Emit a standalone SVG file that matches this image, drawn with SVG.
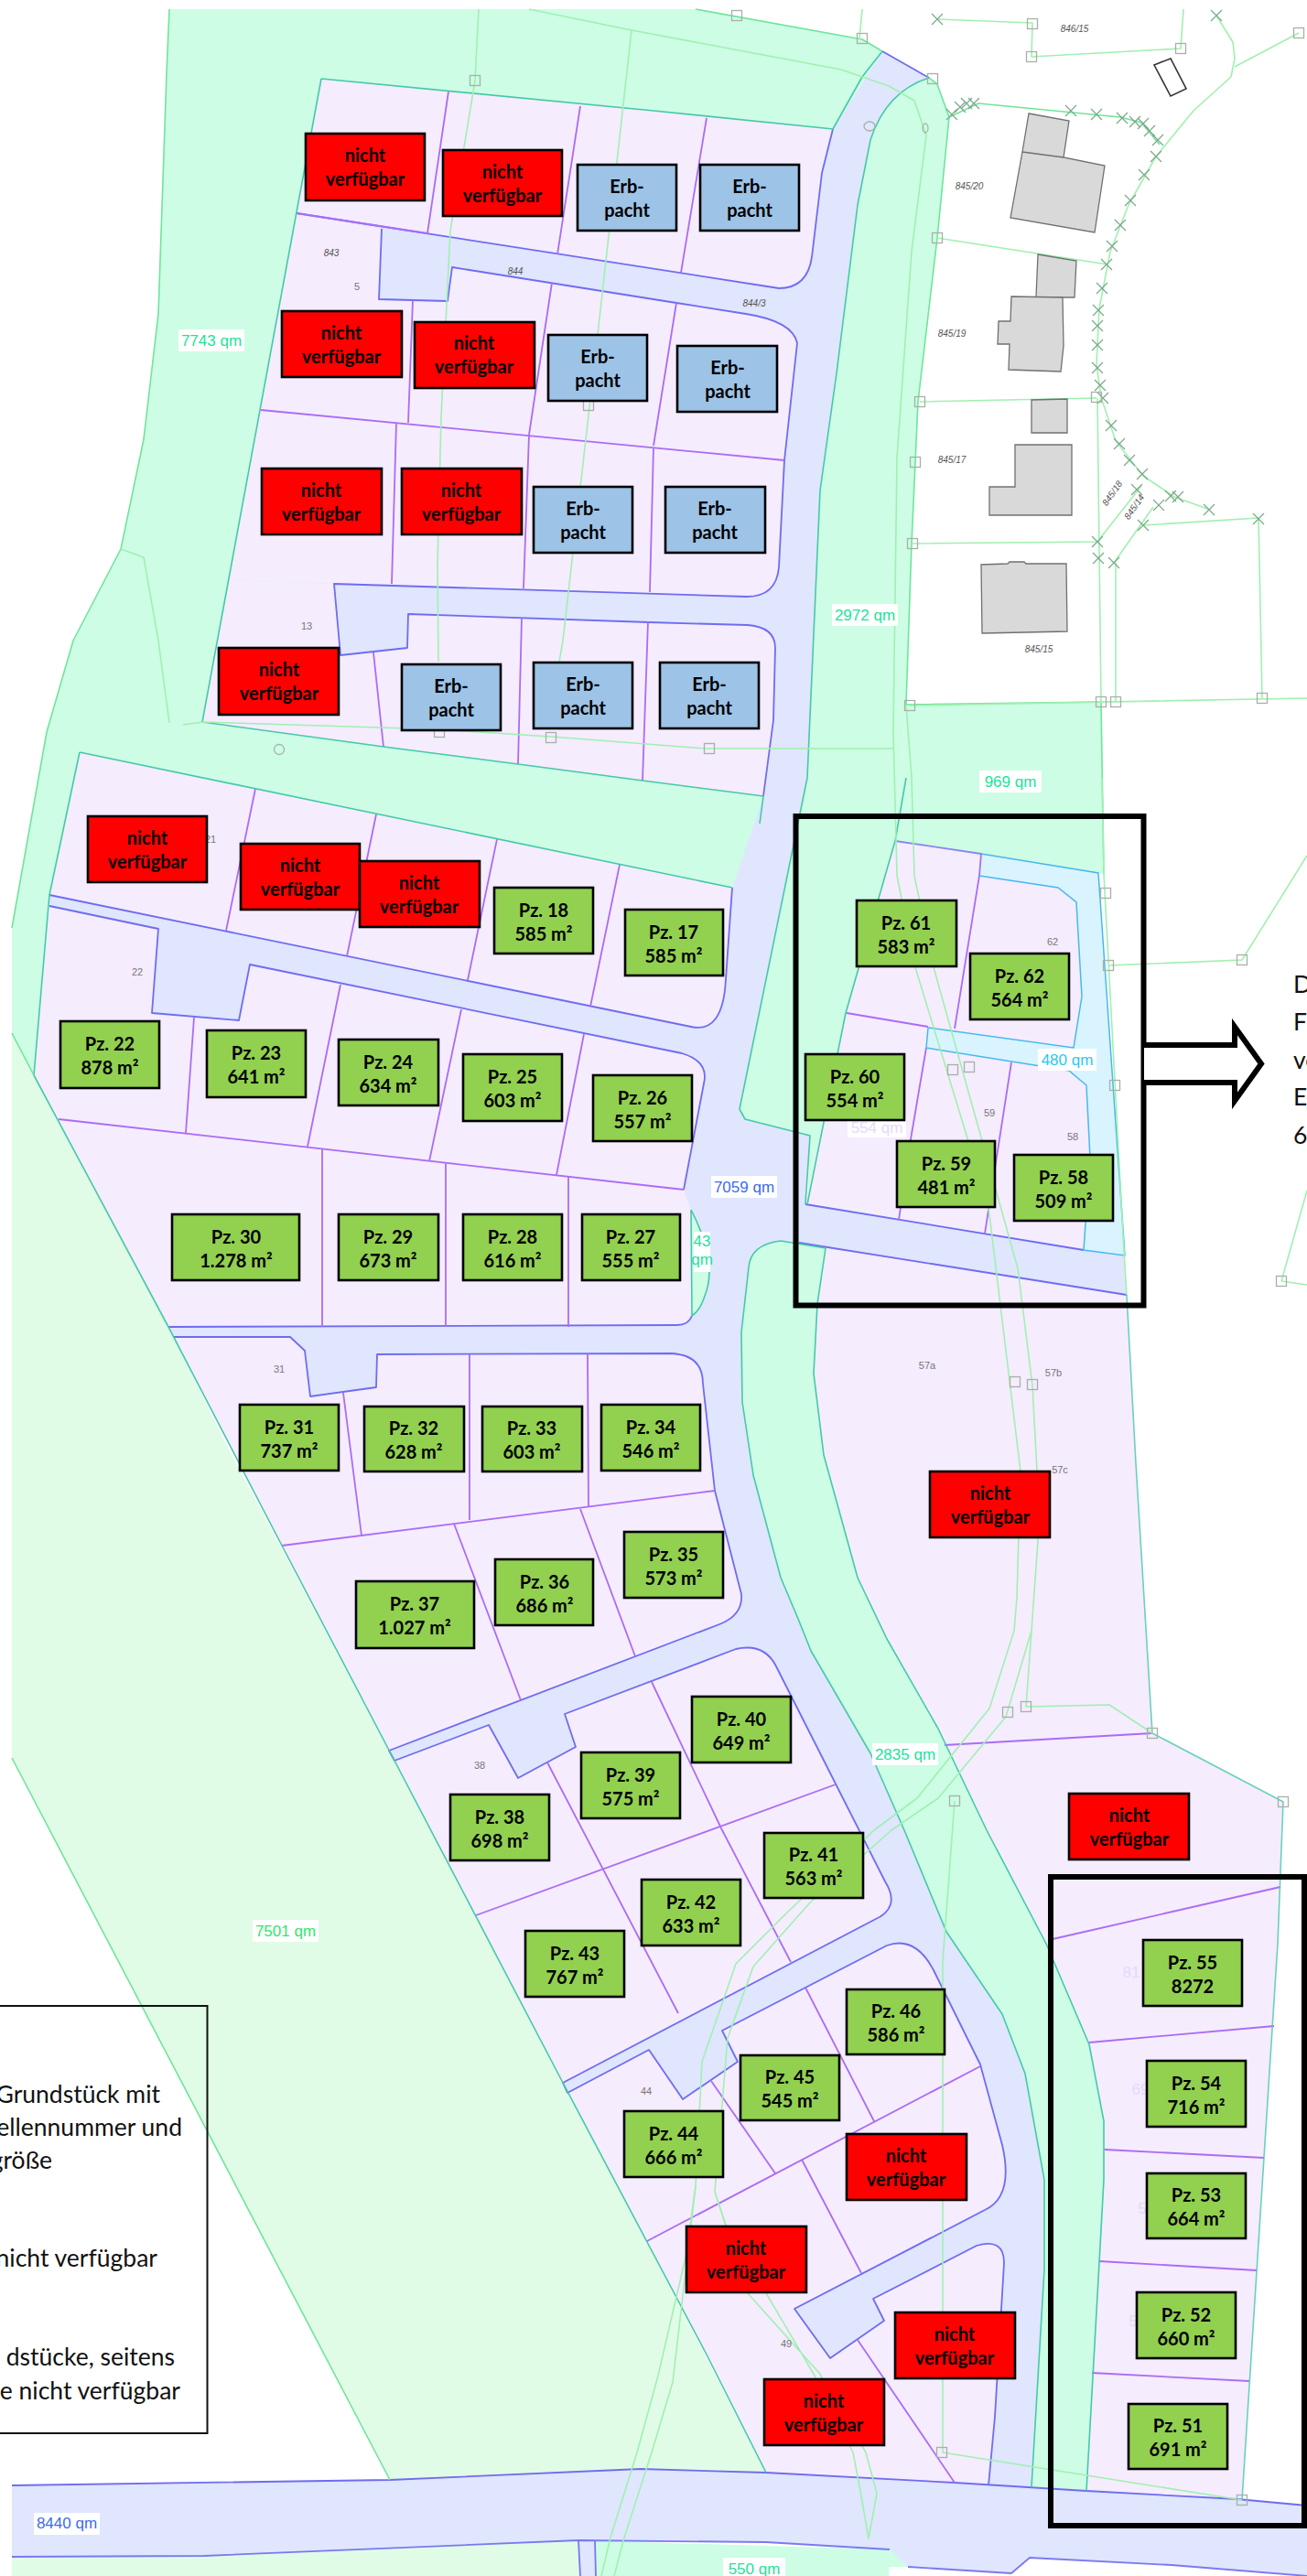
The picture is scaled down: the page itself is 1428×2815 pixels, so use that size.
<svg xmlns="http://www.w3.org/2000/svg" width="1428" height="2815" viewBox="0 0 1428 2815">
<style>
.road{fill:#dfe6fd}.mint{fill:#cdfde5}.pale{fill:#e0fce6}.lil{fill:#f5ecfe}.cy{fill:#d9f4fe}
.e{fill:none;stroke:#6f6cf0;stroke-width:1.8;stroke-linejoin:round}
.t{fill:none;stroke:#45c9a8;stroke-width:1.6;stroke-linejoin:round}
.p{fill:none;stroke:#ab6cf5;stroke-width:1.8}
.g{fill:none;stroke:#a0f0b0;stroke-width:1.6;stroke-linejoin:round}
.g2{fill:none;stroke:#6fe59a;stroke-width:1.6;stroke-linejoin:round}
.c{fill:none;stroke:#47b8f0;stroke-width:1.5}
.sq{fill:none;stroke:#a8b0a8;stroke-width:1.3}
.x{fill:none;stroke:#7aa88a;stroke-width:1.2}
.bd{fill:#d9d9d9;stroke:#707070;stroke-width:1.3}
.sm{font:italic 10px "Liberation Sans",sans-serif;fill:#555;text-anchor:middle}
.no{font:11px "Liberation Sans",sans-serif;fill:#777;text-anchor:middle}
.bg{fill:#fff}
.qm{font:17px "Liberation Sans",sans-serif;text-anchor:middle}
.mg{fill:#1de39a}.mb{fill:#3a6cf2}.mc{fill:#2cc6f5}.ml{fill:#e6d8fb}.mp{fill:#2de86a}
.box{stroke:#000;stroke-width:2.6}
.gr{fill:#92d050}.rd{fill:#ff0000}.bl{fill:#9dc3e6}
.lb{font:700 20px Lato,"Liberation Sans",sans-serif;fill:#000;text-anchor:middle}
.lg{font:26.5px Lato,"Liberation Sans",sans-serif;fill:#111}
.fr{fill:none;stroke:#000;stroke-width:6}
</style>
<defs>
<rect id="s" x="-5.5" y="-5.5" width="11" height="11" class="sq"/>
<path id="k" d="M-6,-6L6,6M-6,6L6,-6" class="x"/>
</defs>
<rect width="1428" height="2815" fill="#fff"/>
<g id="map-fills">
<path class="pale" d="M13,1129L37,1175L184,1450L250,1584L520,2093L837,2702L426,2710L13,1921Z"/>
<path class="road" d="M964,56L1015,85L978,107L951,153L937,224L914,408L896,536L882,850L808,1212L814,1223L885,1241L880,1316L1228,1371L1231,1415L902,1364L873,1358L853,1356Q820,1360 818,1385L810,1456L811,1532L823,1612L853,1724L872,1769L886,1804L951,1916L988,2000L1034,2111L1095,2201L1120,2266L1141,2382L1141,2480L1127,2718L837,2702L772,2573L615,2276L431,1924L308,1689L184,1450L64,1223L54,990L54,978L87,822L221,789L250,634L324,233L351,86L910,141Z"/>
<path class="mint" d="M185,10L760,10L942,43L964,56L910,141L351,86L221,789L834,870L800,970L87,822L54,978L37,1175L13,1129L13,1014L51,800L80,700L132,600L157,480L173,343L182,80Z"/>
<path class="mint" d="M1015,85L1024,92L1037,128L1024,260L1003,439L996,594L990,770L978,919L924,1107L882,1316L885,1241L814,1223L808,1212L882,850L896,536L914,408L937,224L951,153Q968,100 1015,85Z"/>
<path class="mint" d="M990,770L1203,767L1206,955L1072,933L978,919Z"/>
<path class="mint" d="M873,1358L902,1364L893,1425L889,1501L900,1590L937,1724L969,1791L1025,1889L1078,2000L1143,2124L1190,2234L1206,2318L1206,2382L1201,2473L1187,2722L1127,2718L1141,2480L1141,2382L1120,2266L1095,2201L1034,2111L988,2000L951,1916L886,1804L872,1769L853,1724L823,1612L811,1532L810,1456L818,1385Q820,1360 853,1356Z"/>
<path class="mint" d="M632,2776L972,2786L992,2805L971,2805L971,2815L632,2815Z"/>
<path class="pale" d="M13,2794L223,2793L632,2776L632,2815L13,2815Z"/>
<path class="road" d="M632,2776L650,2776L651,2815L634,2815Z"/>
<path class="road" d="M13,2716L426,2710L700,2698L837,2702L1043,2713L1187,2722L1352,2731L1428,2738L1428,2815L1280,2803L1125,2795L1105,2812L992,2805L972,2786L837,2778L726,2776L632,2776L223,2793L13,2794Z"/>
<path class="cy" d="M1072,933L1200,954L1229,1372L1184,1366L1191,1265L1187,1186L1168,1170L1012,1145L1014,1123L1173,1145L1182,1089L1176,986L1156,970L1070,957Z"/>
<path class="lil" d="M351,86L714,121L910,141L898,189L887,281Q882,315 851,315L324,233Z"/>
<path class="lil" d="M324,233L417,250L414,327L489,329L494,292L739,331L815,343Q866,351 871,375L857,503L851,620Q848,652 816,652L250,634Z"/>
<path class="lil" d="M221,789L250,634L365,638L372,716L445,708L446,671L709,680L816,683Q847,685 847,708L845,787L834,870Z"/>
<path class="lil" d="M87,822L800,970L793,1070Q790,1130 755,1122L54,978Z"/>
<path class="lil" d="M54,990L173,1015L166,1107L261,1115L273,1054L745,1151Q775,1160 769,1184L747,1300L64,1223L37,1175Z"/>
<path class="lil" d="M64,1223L747,1300L755,1322L756,1438Q752,1448 740,1448L184,1450Z"/>
<path class="mint" d="M755,1322Q785,1380 770,1416Q765,1432 756,1438Z"/>
<path class="lil" d="M189,1461L317,1461L333,1476L339,1526L411,1516L412,1480L732,1479Q768,1480 768,1512L781,1629L308,1689Z"/>
<path class="lil" d="M308,1689L781,1629L810,1742Q812,1765 786,1775L425,1913Z"/>
<path class="lil" d="M431,1924L534,1885L566,1943L629,1909L617,1873L804,1802Q835,1795 848,1821L967,2056Q985,2085 955,2098L615,2276Z"/>
<path class="lil" d="M620,2287L709,2240L746,2294L806,2253L789,2219L969,2126Q1000,2115 1020,2153L1071,2256L1095,2344Q1108,2400 1076,2415L868,2523L772,2573Z"/>
<path class="lil" d="M772,2573L868,2523L907,2577L966,2536L954,2512L1067,2454Q1097,2445 1097,2473L1087,2641L1080,2716L837,2702Z"/>
<path class="lil" d="M978,919L1072,933L1070,957L1156,970L1176,986L1182,1089L1173,1145L1014,1123L1012,1145L1168,1170L1187,1186L1191,1265L1184,1366L880,1316L924,1107Z"/>
<path class="lil" d="M902,1364L1231,1415L1241,1599L1259,1894L1402,1969L1396,2124L1357,2732L1187,2722L1201,2473L1206,2382L1206,2318L1190,2234L1143,2124L1078,2000L1025,1889L969,1791L937,1724L900,1590L889,1501L893,1425Z"/>
</g>
<g id="map-lines">
<path class="e" d="M887,281Q882,315 851,315L324,233M898,189L887,281M910,141L898,189"/>
<path class="e" d="M417,250L414,327L489,329L494,292L739,331L815,343Q866,351 871,375L857,503L851,620Q848,652 816,652L365,638L372,716L445,708L446,671L709,680L816,683Q847,685 847,708L845,787L834,870"/>
<path class="e" d="M54,978L755,1122Q790,1130 793,1070L800,970M54,990L173,1015L166,1107L261,1115L273,1054L745,1151Q775,1160 769,1184L747,1300"/>
<path class="e" d="M184,1450L740,1448Q752,1448 756,1438M189,1461L317,1461L333,1476L339,1526L411,1516L412,1480L732,1479Q768,1480 768,1512L781,1629L810,1742Q812,1765 786,1775L425,1913L431,1924L534,1885L566,1943L629,1909L617,1873L804,1802Q835,1795 848,1821L967,2056Q985,2085 955,2098L615,2276L620,2287L709,2240L746,2294L806,2253L789,2219L969,2126Q1000,2115 1020,2153L1071,2256L1095,2344Q1108,2400 1076,2415L868,2523L907,2577L966,2536L954,2512L1067,2454Q1097,2445 1097,2473L1087,2641L1080,2716"/>
<path class="e" d="M880,1316L1184,1366M873,1358L1231,1415"/>
<path class="e" d="M426,2710L700,2698L837,2702L1043,2713L1187,2722L1352,2731L1428,2738M13,2716L426,2710"/>
<path class="e" stroke-opacity=".9" d="M13,2794L223,2793L632,2776L837,2778L972,2786M992,2805L1105,2812L1125,2795L1280,2803L1428,2815M632,2776L634,2815M650,2776L651,2815"/>
<path class="p" d="M324,233L467,255M490,100L467,255M634,116L609,278M772,129L744,298M451,328L446,462M603,309L578,475M739,331L714,487M285,448L857,503M433,462L428,638M578,475L572,643M714,489L710,647M408,713L419,816M570,675L566,835M708,679L702,853"/>
<path class="p" d="M279,862L247,1017M411,890L379,1045M543,917L511,1071M677,945L645,1100M212,1112L203,1238M372,1076L336,1253M504,1103L469,1269M638,1130L608,1284M64,1223L747,1300M352,1255L352,1450M487,1271L487,1450M621,1286L621,1450"/>
<path class="p" d="M375,1522L395,1678M513,1480L513,1661M642,1479L643,1646M308,1689L781,1629M496,1665L569,1858M634,1649L694,1810M598,1926L741,2200M712,1838L788,1998L864,2144M520,2093L913,1950M777,2274L847,2375M880,2172L955,2318M876,2360L941,2484M707,2449L1071,2258M937,2557L1043,2713"/>
<path class="p" d="M1072,933L1070,957L1043,1124M925,1107L1014,1122M1012,1145L995,1245L982,1333M1105,1161L1076,1348M1150,2119L1399,2062M1190,2232L1392,2214M1207,2349L1381,2358M1201,2471L1373,2481M1193,2593L1365,2602M1032,1907L1259,1894"/>
<path class="t" d="M351,86L714,121L910,141L942,84L964,56M351,86L221,789L419,816L566,835L702,853L834,870L830,900M87,822L800,970M87,822L54,978L37,1175L184,1450L308,1689L431,1924L615,2276L772,2573L837,2702"/>
<path class="t" d="M1015,85Q968,100 951,153L937,224L914,408L896,536L882,850L808,1212L814,1223L885,1241L880,1316M853,1356Q820,1360 818,1385L810,1456L811,1532L823,1612L853,1724L872,1769L886,1804L951,1916L988,2000L1034,2111L1095,2201L1120,2266L1141,2382L1141,2480L1127,2718M853,1356L902,1364L893,1425L889,1501L900,1590L937,1724L969,1791L1025,1889L1078,2000L1143,2124L1190,2234L1206,2318L1206,2382L1201,2473L1187,2722M990,850L978,919L924,1107L882,1316M755,1322Q785,1380 770,1416Q765,1432 756,1438L755,1322"/>
<path class="t" stroke-opacity=".8" d="M1231,1415L1241,1599L1259,1894L1402,1969L1396,2124L1357,2732"/>
<path class="e" d="M964,56L1015,85"/>
<path class="c" d="M1072,933L1200,954L1229,1372L1184,1366L1191,1265L1187,1186L1168,1170L1012,1145L1014,1123L1173,1145L1182,1089L1176,986L1156,970L1070,957"/>
<path class="e" stroke-opacity=".8" d="M978,919L1072,933"/>
<path class="g2" d="M185,10L182,80L173,343L157,480L132,600L80,700L51,800L13,1014M760,10L942,43L964,56M1015,85L1024,92L1037,128L1024,260L1003,439L996,594L990,770L1203,767L1206,955M13,1129L37,1175M13,1921L426,2710"/>
<path class="g2" d="M1037,128L1069,113L1224,128L1247,134L1267,158"/>
<path class="g" d="M523,10L519,88L492,252L482,455L478,617L479,723M578,10L690,33L653,366L615,700L611,723M200,792L222,789L477,797L602,805L771,818L976,818M132,600L157,609L173,700L185,790"/>
<path class="g" d="M690,33L919,76L971,94L999,110L1012,148L996,275L980,500L976,800L980,957L1000,1057L1080,1319L1108,1550L1115,1608L1111,1746L1108,1782L1081,1867L1002,1965L955,2000L862,2088L804,2146L767,2253L760,2389L749,2467L719,2596L696,2680L667,2773L657,2815"/>
<path class="g" d="M990,770L996,850L999,957L1020,1057L1112,1386L1128,1514L1133,1608L1134,1684L1127,1782L1099,1876L1025,1965L974,2000L886,2078L823,2149L795,2227L781,2395L793,2431L890,2596L932,2680L940,2722L949,2774L958,2725L946,2680L895,2593L816,2505L781,2395M760,2389L735,2603L712,2680L682,2773L671,2815"/>
<path class="g" d="M1127,1782L1121,1865L1212,1863L1259,1894M1043,1968L1030,2143L1030,2680L1357,2732M1204,850L1206,955L1227,1350L1231,1415M1211,1055L1357,1049L1428,935M1400,1400L1428,1301M1400,1400L1428,1404"/>
<path class="g" d="M942,10L939,43M1024,21L1128,25L1127,62L1290,53L1293,10M1329,17L1347,46L1349,64L1345,84L1304,121L1263,171L1233,224L1213,275L1201,337L1198,398L1203,434L1219,482L1249,520L1283,543L1322,557M1349,73L1419,36M1024,260L1210,289M1005,439L1198,435M997,594L1199,592M1199,435L1203,767M1199,592L1247,531M1217,615L1260,554M1219,615L1219,767M1249,574L1375,566L1379,763M994,771L1428,763"/>
<g><use href="#k" x="1024" y="21"/><use href="#k" x="1329" y="17"/><use href="#k" x="1170" y="121"/><use href="#k" x="1198" y="125"/><use href="#k" x="1226" y="129"/><use href="#k" x="1240" y="133"/><use href="#k" x="1249" y="135"/><use href="#k" x="1256" y="143"/><use href="#k" x="1265" y="153"/><use href="#k" x="1263" y="171"/><use href="#k" x="1250" y="191"/><use href="#k" x="1235" y="219"/><use href="#k" x="1224" y="246"/><use href="#k" x="1215" y="269"/><use href="#k" x="1209" y="289"/><use href="#k" x="1204" y="315"/><use href="#k" x="1200" y="339"/><use href="#k" x="1199" y="356"/><use href="#k" x="1199" y="377"/><use href="#k" x="1199" y="402"/><use href="#k" x="1202" y="421"/><use href="#k" x="1205" y="435"/><use href="#k" x="1214" y="465"/><use href="#k" x="1223" y="485"/><use href="#k" x="1234" y="503"/><use href="#k" x="1248" y="518"/><use href="#k" x="1242" y="535"/><use href="#k" x="1266" y="552"/><use href="#k" x="1279" y="542"/><use href="#k" x="1287" y="543"/><use href="#k" x="1321" y="557"/><use href="#k" x="1199" y="592"/><use href="#k" x="1200" y="610"/><use href="#k" x="1217" y="615"/><use href="#k" x="1249" y="574"/><use href="#k" x="1375" y="567"/><use href="#k" x="1040" y="125"/><use href="#k" x="1049" y="117"/><use href="#k" x="1056" y="113"/><use href="#k" x="1064" y="113"/></g>
<g><use href="#s" x="805" y="17"/><use href="#s" x="942" y="42"/><use href="#s" x="1128" y="26"/><use href="#s" x="1127" y="62"/><use href="#s" x="1290" y="53"/><use href="#s" x="1419" y="36"/><use href="#s" x="1019" y="86"/><use href="#s" x="1024" y="260"/><use href="#s" x="1005" y="439"/><use href="#s" x="1000" y="505"/><use href="#s" x="997" y="594"/><use href="#s" x="1198" y="434"/><use href="#s" x="994" y="771"/><use href="#s" x="1203" y="767"/><use href="#s" x="1219" y="767"/><use href="#s" x="1379" y="763"/><use href="#s" x="519" y="88"/><use href="#s" x="643" y="443"/><use href="#s" x="480" y="800"/><use href="#s" x="602" y="806"/><use href="#s" x="775" y="818"/><use href="#s" x="1208" y="976"/><use href="#s" x="1211" y="1055"/><use href="#s" x="1218" y="1186"/><use href="#s" x="1041" y="1169"/><use href="#s" x="1059" y="1166"/><use href="#s" x="1357" y="1049"/><use href="#s" x="1400" y="1400"/><use href="#s" x="1109" y="1510"/><use href="#s" x="1128" y="1513"/><use href="#s" x="1101" y="1871"/><use href="#s" x="1121" y="1865"/><use href="#s" x="1259" y="1894"/><use href="#s" x="1402" y="1969"/><use href="#s" x="1043" y="1968"/><use href="#s" x="1029" y="2680"/><use href="#s" x="1357" y="2732"/></g>
<circle class="sq" cx="305" cy="819" r="5.5"/><ellipse class="sq" cx="950" cy="138" rx="6" ry="5"/><ellipse class="sq" cx="1011" cy="140" rx="3" ry="5"/>
<path class="bd" d="M1124,124L1168,132L1162,172L1207,181L1196,254L1104,238L1117,166ZM1117,166L1162,172"/>
<path class="bd" d="M1134,278L1176,285L1174,325L1132,325Z"/>
<path class="bd" d="M1105,324L1161,325L1162,378L1159,406L1102,404L1103,376L1090,376L1091,351L1104,351Z"/>
<path class="bd" d="M1127,437L1166,436L1166,473L1127,473Z"/>
<path class="bd" d="M1109,486L1171,486L1171,563L1081,563L1081,532L1109,532Z"/>
<path class="bd" d="M1072,617L1101,616L1103,614L1119,614L1121,616L1165,616L1166,690L1073,692Z"/>
<path d="M1261,71L1279,64L1296,97L1279,105Z" fill="#fff" stroke="#333" stroke-width="1.6"/>
</g>
<g id="map-labels">
<text class="sm" x="1174" y="35">846/15</text><text class="sm" x="1059" y="207">845/20</text><text class="sm" x="1040" y="368">845/19</text><text class="sm" x="1040" y="506">845/17</text><text class="sm" x="1135" y="713">845/15</text>
<text class="sm" transform="translate(1218,541) rotate(-55)">845/18</text><text class="sm" transform="translate(1242,556) rotate(-55)">845/14</text><text class="sm" x="824" y="335">844/3</text><text class="sm" x="362" y="280">843</text><text class="sm" x="563" y="300">844</text>
<text class="no" x="390" y="317">5</text><text class="no" x="335" y="688">13</text><text class="no" x="230" y="921">21</text><text class="no" x="150" y="1066">22</text><text class="no" x="305" y="1500">31</text><text class="no" x="524" y="1933">38</text><text class="no" x="1150" y="1033">62</text><text class="no" x="1081" y="1220">59</text><text class="no" x="1172" y="1246">58</text><text class="no" x="1013" y="1496">57a</text><text class="no" x="1151" y="1504">57b</text><text class="no" x="1158" y="1610">57c</text><text class="no" x="706" y="2289">44</text><text class="no" x="859" y="2565">49</text>
<rect class="bg" x="195" y="360" width="72" height="24"/><text class="qm mg" x="231" y="378">7743 qm</text>
<rect class="bg" x="909" y="660" width="72" height="24"/><text class="qm mg" x="945" y="678">2972 qm</text>
<rect class="bg" x="1070" y="842" width="68" height="24"/><text class="qm mg" x="1104" y="860">969 qm</text>
<rect class="bg" x="777" y="1285" width="72" height="24"/><text class="qm mb" x="813" y="1303">7059 qm</text>
<rect class="bg" x="953" y="1905" width="72" height="24"/><text class="qm mg" x="989" y="1923">2835 qm</text>
<rect class="bg" x="276" y="2098" width="72" height="24"/><text class="qm mp" x="312" y="2116">7501 qm</text>
<rect class="bg" x="37" y="2746" width="72" height="24"/><text class="qm mb" x="73" y="2763">8440 qm</text>
<rect class="bg" x="790" y="2795" width="68" height="20"/><text class="qm mg" x="824" y="2813">550 qm</text>
<rect class="bg" x="1134" y="1146" width="64" height="24"/><text class="qm mc" x="1166" y="1164">480 qm</text>
<rect class="bg" x="926" y="1221" width="64" height="22"/><text class="qm ml" x="958" y="1238">554 qm</text>
<rect class="bg" x="758" y="1346" width="18" height="44"/><text class="qm mg" x="767" y="1362">43</text><text class="qm mg" x="767" y="1382">qm</text>
<text class="qm ml" x="1236" y="2161">81</text><text class="qm ml" x="1246" y="2289">69</text><text class="qm ml" x="1248" y="2419">5</text><text class="qm ml" x="1238" y="2542">5</text>
</g>
<g id="plots">
<g id="n1"><rect class="box rd" x="334" y="146" width="130" height="73"/><text class="lb" x="399" y="177">nicht</text><text class="lb" x="399" y="203">verfügbar</text></g>
<g id="n2"><rect class="box rd" x="484" y="164" width="130" height="72"/><text class="lb" x="549" y="195">nicht</text><text class="lb" x="549" y="221">verfügbar</text></g>
<g id="e1"><rect class="box bl" x="631" y="180" width="108" height="72"/><text class="lb" x="685" y="211">Erb-</text><text class="lb" x="685" y="237">pacht</text></g>
<g id="e2"><rect class="box bl" x="765" y="180" width="108" height="72"/><text class="lb" x="819" y="211">Erb-</text><text class="lb" x="819" y="237">pacht</text></g>
<g id="n3"><rect class="box rd" x="308" y="340" width="131" height="72"/><text class="lb" x="373" y="371">nicht</text><text class="lb" x="373" y="397">verfügbar</text></g>
<g id="n4"><rect class="box rd" x="453" y="352" width="131" height="72"/><text class="lb" x="518" y="382">nicht</text><text class="lb" x="518" y="408">verfügbar</text></g>
<g id="e3"><rect class="box bl" x="599" y="366" width="108" height="72"/><text class="lb" x="653" y="397">Erb-</text><text class="lb" x="653" y="423">pacht</text></g>
<g id="e4"><rect class="box bl" x="740" y="378" width="109" height="72"/><text class="lb" x="795" y="409">Erb-</text><text class="lb" x="795" y="435">pacht</text></g>
<g id="n5"><rect class="box rd" x="286" y="512" width="131" height="72"/><text class="lb" x="351" y="543">nicht</text><text class="lb" x="351" y="569">verfügbar</text></g>
<g id="n6"><rect class="box rd" x="439" y="512" width="131" height="72"/><text class="lb" x="504" y="543">nicht</text><text class="lb" x="504" y="569">verfügbar</text></g>
<g id="e5"><rect class="box bl" x="583" y="532" width="108" height="72"/><text class="lb" x="637" y="563">Erb-</text><text class="lb" x="637" y="589">pacht</text></g>
<g id="e6"><rect class="box bl" x="727" y="532" width="109" height="72"/><text class="lb" x="781" y="563">Erb-</text><text class="lb" x="781" y="589">pacht</text></g>
<g id="n7"><rect class="box rd" x="239" y="708" width="131" height="73"/><text class="lb" x="305" y="739">nicht</text><text class="lb" x="305" y="765">verfügbar</text></g>
<g id="e7"><rect class="box bl" x="439" y="726" width="108" height="72"/><text class="lb" x="493" y="757">Erb-</text><text class="lb" x="493" y="783">pacht</text></g>
<g id="e8"><rect class="box bl" x="583" y="724" width="108" height="72"/><text class="lb" x="637" y="755">Erb-</text><text class="lb" x="637" y="781">pacht</text></g>
<g id="e9"><rect class="box bl" x="721" y="724" width="108" height="72"/><text class="lb" x="775" y="755">Erb-</text><text class="lb" x="775" y="781">pacht</text></g>
<g id="n8"><rect class="box rd" x="96" y="892" width="130" height="72"/><text class="lb" x="161" y="923">nicht</text><text class="lb" x="161" y="949">verfügbar</text></g>
<g id="n9"><rect class="box rd" x="263" y="922" width="130" height="72"/><text class="lb" x="328" y="953">nicht</text><text class="lb" x="328" y="979">verfügbar</text></g>
<g id="n10"><rect class="box rd" x="393" y="941" width="131" height="72"/><text class="lb" x="458" y="972">nicht</text><text class="lb" x="458" y="998">verfügbar</text></g>
<g id="pz18"><rect class="box gr" x="540" y="970" width="108" height="72"/><text class="lb" x="594" y="1002">Pz. 18</text><text class="lb" x="594" y="1028">585 m²</text></g>
<g id="pz17"><rect class="box gr" x="683" y="994" width="107" height="72"/><text class="lb" x="736" y="1026">Pz. 17</text><text class="lb" x="736" y="1052">585 m²</text></g>
<g id="pz22"><rect class="box gr" x="66" y="1116" width="108" height="73"/><text class="lb" x="120" y="1148">Pz. 22</text><text class="lb" x="120" y="1174">878 m²</text></g>
<g id="pz23"><rect class="box gr" x="226" y="1126" width="108" height="73"/><text class="lb" x="280" y="1158">Pz. 23</text><text class="lb" x="280" y="1184">641 m²</text></g>
<g id="pz24"><rect class="box gr" x="370" y="1136" width="109" height="72"/><text class="lb" x="424" y="1168">Pz. 24</text><text class="lb" x="424" y="1194">634 m²</text></g>
<g id="pz25"><rect class="box gr" x="506" y="1152" width="108" height="73"/><text class="lb" x="560" y="1184">Pz. 25</text><text class="lb" x="560" y="1210">603 m²</text></g>
<g id="pz26"><rect class="box gr" x="648" y="1175" width="108" height="72"/><text class="lb" x="702" y="1207">Pz. 26</text><text class="lb" x="702" y="1233">557 m²</text></g>
<g id="pz30"><rect class="box gr" x="188" y="1327" width="139" height="72"/><text class="lb" x="258" y="1359">Pz. 30</text><text class="lb" x="258" y="1385">1.278 m²</text></g>
<g id="pz29"><rect class="box gr" x="370" y="1327" width="109" height="72"/><text class="lb" x="424" y="1359">Pz. 29</text><text class="lb" x="424" y="1385">673 m²</text></g>
<g id="pz28"><rect class="box gr" x="506" y="1327" width="108" height="72"/><text class="lb" x="560" y="1359">Pz. 28</text><text class="lb" x="560" y="1385">616 m²</text></g>
<g id="pz27"><rect class="box gr" x="636" y="1327" width="107" height="72"/><text class="lb" x="689" y="1359">Pz. 27</text><text class="lb" x="689" y="1385">555 m²</text></g>
<g id="pz31"><rect class="box gr" x="262" y="1535" width="108" height="72"/><text class="lb" x="316" y="1567">Pz. 31</text><text class="lb" x="316" y="1593">737 m²</text></g>
<g id="pz32"><rect class="box gr" x="398" y="1537" width="109" height="71"/><text class="lb" x="452" y="1568">Pz. 32</text><text class="lb" x="452" y="1594">628 m²</text></g>
<g id="pz33"><rect class="box gr" x="527" y="1537" width="109" height="71"/><text class="lb" x="581" y="1568">Pz. 33</text><text class="lb" x="581" y="1594">603 m²</text></g>
<g id="pz34"><rect class="box gr" x="657" y="1535" width="108" height="72"/><text class="lb" x="711" y="1567">Pz. 34</text><text class="lb" x="711" y="1593">546 m²</text></g>
<g id="pz35"><rect class="box gr" x="682" y="1674" width="108" height="72"/><text class="lb" x="736" y="1706">Pz. 35</text><text class="lb" x="736" y="1732">573 m²</text></g>
<g id="pz36"><rect class="box gr" x="541" y="1704" width="107" height="72"/><text class="lb" x="595" y="1736">Pz. 36</text><text class="lb" x="595" y="1762">686 m²</text></g>
<g id="pz37"><rect class="box gr" x="389" y="1728" width="129" height="73"/><text class="lb" x="453" y="1760">Pz. 37</text><text class="lb" x="453" y="1786">1.027 m²</text></g>
<g id="pz40"><rect class="box gr" x="756" y="1854" width="108" height="72"/><text class="lb" x="810" y="1886">Pz. 40</text><text class="lb" x="810" y="1912">649 m²</text></g>
<g id="pz39"><rect class="box gr" x="635" y="1915" width="108" height="72"/><text class="lb" x="689" y="1947">Pz. 39</text><text class="lb" x="689" y="1973">575 m²</text></g>
<g id="pz38"><rect class="box gr" x="492" y="1961" width="108" height="72"/><text class="lb" x="546" y="1993">Pz. 38</text><text class="lb" x="546" y="2019">698 m²</text></g>
<g id="pz41"><rect class="box gr" x="835" y="2003" width="108" height="71"/><text class="lb" x="889" y="2034">Pz. 41</text><text class="lb" x="889" y="2060">563 m²</text></g>
<g id="pz42"><rect class="box gr" x="701" y="2054" width="108" height="72"/><text class="lb" x="755" y="2086">Pz. 42</text><text class="lb" x="755" y="2112">633 m²</text></g>
<g id="pz43"><rect class="box gr" x="574" y="2110" width="108" height="72"/><text class="lb" x="628" y="2142">Pz. 43</text><text class="lb" x="628" y="2168">767 m²</text></g>
<g id="pz46"><rect class="box gr" x="925" y="2174" width="107" height="71"/><text class="lb" x="979" y="2205">Pz. 46</text><text class="lb" x="979" y="2231">586 m²</text></g>
<g id="pz45"><rect class="box gr" x="809" y="2246" width="108" height="71"/><text class="lb" x="863" y="2277">Pz. 45</text><text class="lb" x="863" y="2303">545 m²</text></g>
<g id="pz44"><rect class="box gr" x="682" y="2307" width="108" height="72"/><text class="lb" x="736" y="2339">Pz. 44</text><text class="lb" x="736" y="2365">666 m²</text></g>
<g id="n11"><rect class="box rd" x="925" y="2332" width="131" height="72"/><text class="lb" x="990" y="2363">nicht</text><text class="lb" x="990" y="2389">verfügbar</text></g>
<g id="n12"><rect class="box rd" x="750" y="2433" width="131" height="72"/><text class="lb" x="815" y="2464">nicht</text><text class="lb" x="815" y="2490">verfügbar</text></g>
<g id="n13"><rect class="box rd" x="978" y="2527" width="131" height="72"/><text class="lb" x="1043" y="2558">nicht</text><text class="lb" x="1043" y="2584">verfügbar</text></g>
<g id="n14"><rect class="box rd" x="835" y="2600" width="131" height="72"/><text class="lb" x="900" y="2631">nicht</text><text class="lb" x="900" y="2657">verfügbar</text></g>
<g id="n15"><rect class="box rd" x="1168" y="1960" width="131" height="72"/><text class="lb" x="1234" y="1991">nicht</text><text class="lb" x="1234" y="2017">verfügbar</text></g>
<g id="n16"><rect class="box rd" x="1016" y="1608" width="131" height="72"/><text class="lb" x="1082" y="1639">nicht</text><text class="lb" x="1082" y="1665">verfügbar</text></g>
<g id="pz55"><rect class="box gr" x="1249" y="2120" width="108" height="72"/><text class="lb" x="1303" y="2152">Pz. 55</text><text class="lb" x="1303" y="2178">8272</text></g>
<g id="pz54"><rect class="box gr" x="1253" y="2252" width="108" height="72"/><text class="lb" x="1307" y="2284">Pz. 54</text><text class="lb" x="1307" y="2310">716 m²</text></g>
<g id="pz53"><rect class="box gr" x="1253" y="2375" width="108" height="71"/><text class="lb" x="1307" y="2406">Pz. 53</text><text class="lb" x="1307" y="2432">664 m²</text></g>
<g id="pz52"><rect class="box gr" x="1242" y="2505" width="108" height="72"/><text class="lb" x="1296" y="2537">Pz. 52</text><text class="lb" x="1296" y="2563">660 m²</text></g>
<g id="pz51"><rect class="box gr" x="1233" y="2627" width="108" height="71"/><text class="lb" x="1287" y="2658">Pz. 51</text><text class="lb" x="1287" y="2684">691 m²</text></g>
<g id="pz61"><rect class="box gr" x="936" y="984" width="109" height="72"/><text class="lb" x="990" y="1016">Pz. 61</text><text class="lb" x="990" y="1042">583 m²</text></g>
<g id="pz62"><rect class="box gr" x="1060" y="1042" width="108" height="72"/><text class="lb" x="1114" y="1074">Pz. 62</text><text class="lb" x="1114" y="1100">564 m²</text></g>
<g id="pz60"><rect class="box gr" x="880" y="1152" width="108" height="72"/><text class="lb" x="934" y="1184">Pz. 60</text><text class="lb" x="934" y="1210">554 m²</text></g>
<g id="pz59"><rect class="box gr" x="980" y="1247" width="107" height="72"/><text class="lb" x="1034" y="1279">Pz. 59</text><text class="lb" x="1034" y="1305">481 m²</text></g>
<g id="pz58"><rect class="box gr" x="1108" y="1262" width="108" height="72"/><text class="lb" x="1162" y="1294">Pz. 58</text><text class="lb" x="1162" y="1320">509 m²</text></g>
</g>
<g id="frames">
<rect class="fr" x="869.5" y="892" width="380" height="534.5"/>
<rect class="fr" x="1148" y="2051" width="277" height="709"/>
</g>
<g id="connectors">
<path d="M1250,1142L1349,1142L1349,1122L1378,1162.5L1349,1203L1349,1183L1250,1183" fill="#fff" stroke="#000" stroke-width="6"/>
</g>
<g id="note">
<text class="lg" x="1413" y="1085">D</text><text class="lg" x="1413" y="1126">Fl</text><text class="lg" x="1413" y="1168">ve</text><text class="lg" x="1413" y="1208">E</text><text class="lg" x="1413" y="1250">6</text>
</g>
<g id="legend">
<rect x="-10" y="2192" width="236.5" height="467" fill="none" stroke="#111" stroke-width="2"/>
<g text-anchor="end">
<text class="lg" x="175" y="2298">Grundstück mit</text>
<text class="lg" x="199" y="2334">ellennummer und</text>
<text class="lg" x="57" y="2370">größe</text>
<text class="lg" x="172" y="2477">nicht verfügbar</text>
<text class="lg" x="191" y="2585">dstücke, seitens</text>
<text class="lg" x="197" y="2622">e nicht verfügbar</text>
</g>
</g>
</svg>
